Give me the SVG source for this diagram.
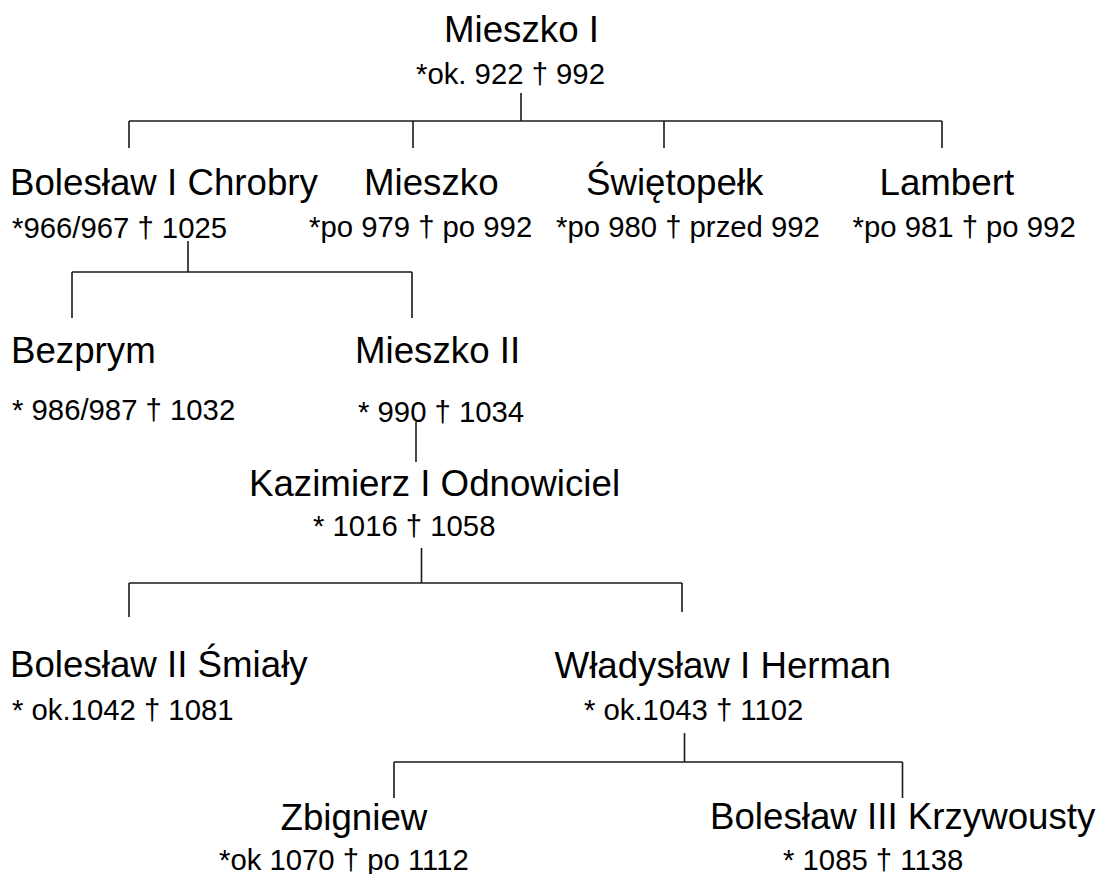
<svg xmlns="http://www.w3.org/2000/svg" width="1111" height="874" viewBox="0 0 1111 874">
<style>
text{font-family:"Liberation Sans",Arial,sans-serif;fill:#000}
.n{font-size:36.7px}
.d{font-size:29.3px}
#connectors path{fill:none;stroke:#1a1a1a;stroke-width:1.6}
</style>
<rect width="1111" height="874" fill="#fff"/>
<g id="connectors">
<path d="M521,93V121M129,121H942M129,121V148M413,121V148M664,121V148M942,121V148"/>
<path d="M188,241V272M72,272H412M72,272V318M412,272V318"/>
<path d="M416,422V462"/>
<path d="M421.5,548V583M129,583H682M129,583V617M682,583V612"/>
<path d="M684.5,733V762M394,762H902.5M394,762V798M902.5,762V798"/>
</g>
<g id="mieszko-i"><text class="n" x="444" y="42">Mieszko I</text><text class="d" x="416" y="83.5">*ok. 922 † 992</text></g>
<g id="boleslaw-i"><text class="n" x="10" y="195">Bolesław I Chrobry</text><text class="d" x="12" y="237.5">*966/967 † 1025</text></g>
<g id="mieszko"><text class="n" x="364" y="195">Mieszko</text><text class="d" x="309" y="237">*po 979 † po 992</text></g>
<g id="swietopelk"><text class="n" x="586" y="195">Świętopełk</text><text class="d" x="556" y="237">*po 980 † przed 992</text></g>
<g id="lambert"><text class="n" x="879.5" y="195">Lambert</text><text class="d" x="852.5" y="237">*po 981 † po 992</text></g>
<g id="bezprym"><text class="n" x="11" y="363">Bezprym</text><text class="d" x="12" y="420">* 986/987 † 1032</text></g>
<g id="mieszko-ii"><text class="n" x="355" y="363">Mieszko II</text><text class="d" x="358" y="421.5">* 990 † 1034</text></g>
<g id="kazimierz"><text class="n" x="249" y="496">Kazimierz I Odnowiciel</text><text class="d" x="313" y="536">* 1016 † 1058</text></g>
<g id="boleslaw-ii"><text class="n" x="10" y="677">Bolesław II Śmiały</text><text class="d" x="12" y="720">* ok.1042 † 1081</text></g>
<g id="wladyslaw"><text class="n" x="554.5" y="678">Władysław I Herman</text><text class="d" x="584" y="720">* ok.1043 † 1102</text></g>
<g id="zbigniew"><text class="n" x="280.5" y="830">Zbigniew</text><text class="d" x="219" y="870">*ok 1070 † po 1112</text></g>
<g id="boleslaw-iii"><text class="n" x="710" y="828.5">Bolesław III Krzywousty</text><text class="d" x="783" y="870">* 1085 † 1138</text></g>
</svg>
